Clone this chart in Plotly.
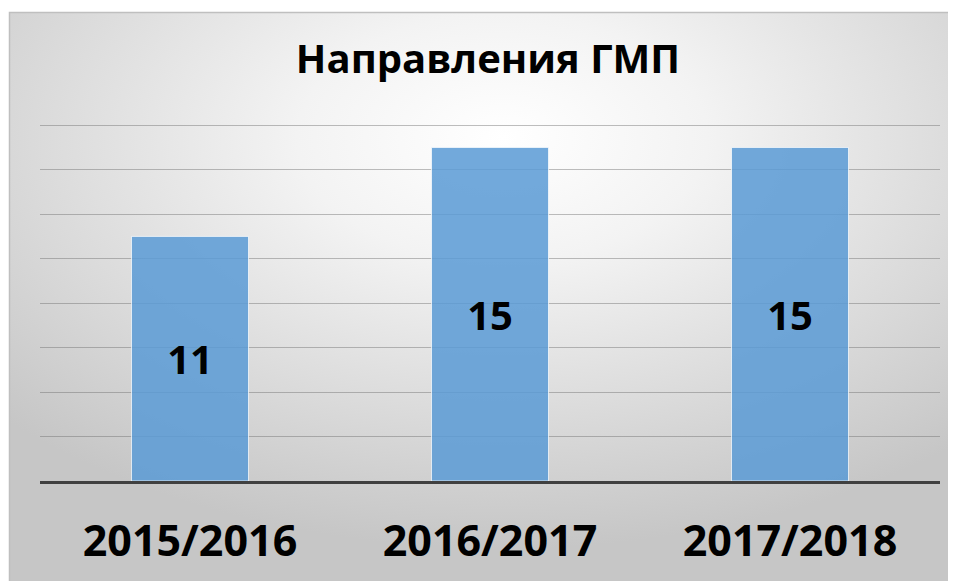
import plotly.graph_objects as go
import urllib.parse

categories = ["2015/2016", "2016/2017", "2017/2018"]
values = [11, 15, 15]
title_text = "Направления ГМП"
y_ticks = [0, 2, 4, 6, 8, 10, 12, 14, 16]

# the page puts the figure 8px from the window's top-left corner
OFF = 8
W, H = 956 - OFF, 581 - OFF
L, T = 40 - OFF, 115
R = W - (940 - OFF)
B = H - (481 - OFF)
pw, ph = W - L - R, H - T - B

def px_to_paper_x(px):
    return (px - OFF - L) / pw

def px_to_paper_y(py):
    return (H - B - (py - OFF)) / ph

svg = (
    '<svg xmlns="http://www.w3.org/2000/svg" width="948" height="570" viewBox="0 0 948 570" preserveAspectRatio="none">'
    '<defs><radialGradient id="g" cx="0.52" cy="0.22" r="0.72">'
    '<stop offset="0" stop-color="#ffffff"/>'
    '<stop offset="0.3" stop-color="#f3f3f3"/>'
    '<stop offset="1" stop-color="#c6c6c6"/>'
    '</radialGradient></defs>'
    '<rect x="0" y="0" width="948" height="570" fill="url(#g)"/></svg>'
)
src = "data:image/svg+xml;charset=utf-8," + urllib.parse.quote(svg)

fig = go.Figure()
fig.add_trace(go.Bar(
    x=categories, y=values,
    marker=dict(color="rgba(91,155,213,0.86)", line=dict(color="rgba(255,255,255,0.7)", width=1)),
    text=[str(v) for v in values],
    textposition="inside", insidetextanchor="middle",
    textfont=dict(family="Open Sans", size=40, color="#000000", weight="bold"),
    textangle=0,
    width=0.39,
))

fig.update_layout(
    width=W, height=H,
    margin=dict(l=L, r=R, t=T, b=B, pad=0),
    paper_bgcolor="#ffffff",
    plot_bgcolor="rgba(0,0,0,0)",
    showlegend=False,
    title=dict(text=title_text, x=(488 - OFF) / W, xanchor="center", xref="container",
               y=1 - (59 - OFF) / H, yanchor="middle",
               font=dict(family="Open Sans", size=40, color="#000000", weight="bold")),
    xaxis=dict(showline=True, linecolor="#404040", linewidth=3, ticks="",
               tickfont=dict(family="Open Sans", size=43, color="#000000", weight="bold"),
               ticklabelstandoff=20, showgrid=False),
    yaxis=dict(range=[0, 16.1], tickvals=y_ticks, showticklabels=False, showgrid=True,
               gridcolor="rgba(110,110,110,0.45)", gridwidth=1, zeroline=False, showline=False),
    images=[dict(source=src, xref="paper", yref="paper",
                 x=px_to_paper_x(9), y=px_to_paper_y(12),
                 sizex=(958 - 9) / pw, sizey=(583 - 12) / ph,
                 xanchor="left", yanchor="top", sizing="stretch", layer="below")],
    shapes=[dict(type="rect", xref="paper", yref="paper",
                 x0=px_to_paper_x(9.5), y0=px_to_paper_y(590),
                 x1=px_to_paper_x(965), y1=px_to_paper_y(12.5),
                 line=dict(color="#bfbfbf", width=1.5), fillcolor="rgba(0,0,0,0)", layer="below")],
)

fig.write_html("out.html")
